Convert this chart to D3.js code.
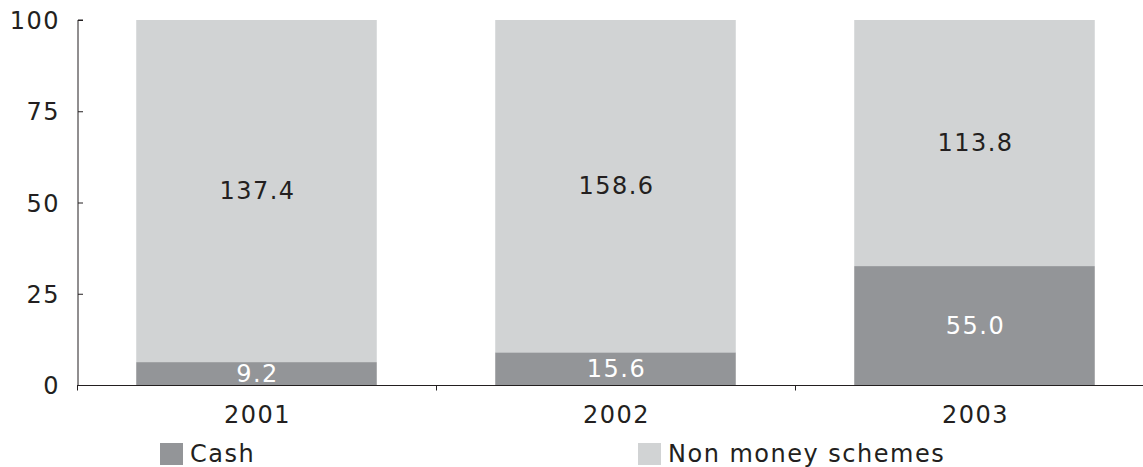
<!DOCTYPE html>
<html>
<head>
<meta charset="utf-8">
<script src="https://cdn.jsdelivr.net/npm/d3@7"></script>
<style>
  html, body { margin: 0; padding: 0; background: #fff; }
  svg { display: block; font-family: "DejaVu Sans", Verdana, sans-serif; }
  text { letter-spacing: 1.5px; }
</style>
</head>
<body>
<svg id="chart" width="1143" height="467"></svg>
<script>
// Years and the two components (absolute amounts, shown as labels)
const years = ["2001", "2002", "2003"];
const cash = [9.2, 15.6, 55.0];
const nonMoney = [137.4, 158.6, 113.8];
const seriesNames = ["Cash", "Non money schemes"];
const seriesColors = ["#939598", "#d1d3d4"];
const yTicks = [0, 25, 50, 75, 100];

const svg = d3.select("#chart");
const textColor = "#231f20";

const x = d3.scaleBand()
  .domain(years)
  .range([77, 1154])
  .paddingInner(0.33)
  .paddingOuter(0.165);

const y = d3.scaleLinear().domain([0, 100]).range([385, 20]);

// Each bar is normalised to 100 %
const rows = years.map((yr, i) => {
  const total = cash[i] + nonMoney[i];
  return { year: yr, Cash: cash[i] / total * 100, "Non money schemes": nonMoney[i] / total * 100,
           raw: { Cash: cash[i], "Non money schemes": nonMoney[i] } };
});
const stacked = d3.stack().keys(seriesNames)(rows);

const layers = svg.append("g").selectAll("g")
  .data(stacked)
  .join("g")
  .attr("fill", (d, i) => seriesColors[i]);

layers.selectAll("rect")
  .data(d => d.map(v => ({ v, key: d.key })))
  .join("rect")
  .attr("x", d => x(d.v.data.year))
  .attr("width", x.bandwidth())
  .attr("y", d => y(d.v[1]))
  .attr("height", d => y(d.v[0]) - y(d.v[1]));

// Value labels centred in each segment
layers.selectAll("text")
  .data(d => d.map(v => ({ v, key: d.key })))
  .join("text")
  .attr("x", d => x(d.v.data.year) + x.bandwidth() / 2 + 1)
  .attr("y", d => (y(d.v[0]) + y(d.v[1])) / 2 + 8)
  .attr("text-anchor", "middle")
  .attr("font-size", 24)
  .attr("fill", d => d.key === "Cash" ? "#ffffff" : textColor)
  .text(d => d.v.data.raw[d.key].toFixed(1));

// Y axis
const yAxis = svg.append("g")
  .attr("transform", "translate(78,0)")
  .call(d3.axisRight(y).tickValues(yTicks).tickSize(5).tickFormat(""));
yAxis.select(".domain").attr("stroke", textColor).attr("d", "M5,20H0V385");
yAxis.selectAll(".tick line").attr("stroke", textColor);

svg.append("g").selectAll("text")
  .data(yTicks)
  .join("text")
  .attr("x", 60)
  .attr("y", d => y(d) + 9)
  .attr("text-anchor", "end")
  .attr("font-size", 24)
  .attr("fill", textColor)
  .text(d => d);

// X axis
const xAxis = svg.append("g")
  .attr("transform", "translate(0,385.5)");
xAxis.append("line")
  .attr("x1", 77).attr("x2", 1143)
  .attr("stroke", textColor);
const step = x.step();
const boundaries = d3.range(years.length + 1).map(i => 77 + i * step);
xAxis.selectAll("line.tick")
  .data(boundaries)
  .join("line")
  .attr("class", "tick")
  .attr("x1", d => Math.round(d) + 0.5).attr("x2", d => Math.round(d) + 0.5)
  .attr("y1", 0).attr("y2", 5)
  .attr("stroke", textColor);
xAxis.selectAll("text")
  .data(years)
  .join("text")
  .attr("x", d => x(d) + x.bandwidth() / 2 + 1)
  .attr("y", 37)
  .attr("text-anchor", "middle")
  .attr("font-size", 24)
  .attr("fill", textColor)
  .text(d => d);

// Legend
const legendX = [160, 638];
const legend = svg.append("g").selectAll("g")
  .data(seriesNames)
  .join("g")
  .attr("transform", (d, i) => `translate(${legendX[i]},443)`);
legend.append("rect")
  .attr("width", 23).attr("height", 22)
  .attr("fill", (d, i) => seriesColors[i]);
legend.append("text")
  .attr("x", 30).attr("y", 19)
  .attr("font-size", 24)
  .attr("fill", textColor)
  .text(d => d);
</script>
</body>
</html>
